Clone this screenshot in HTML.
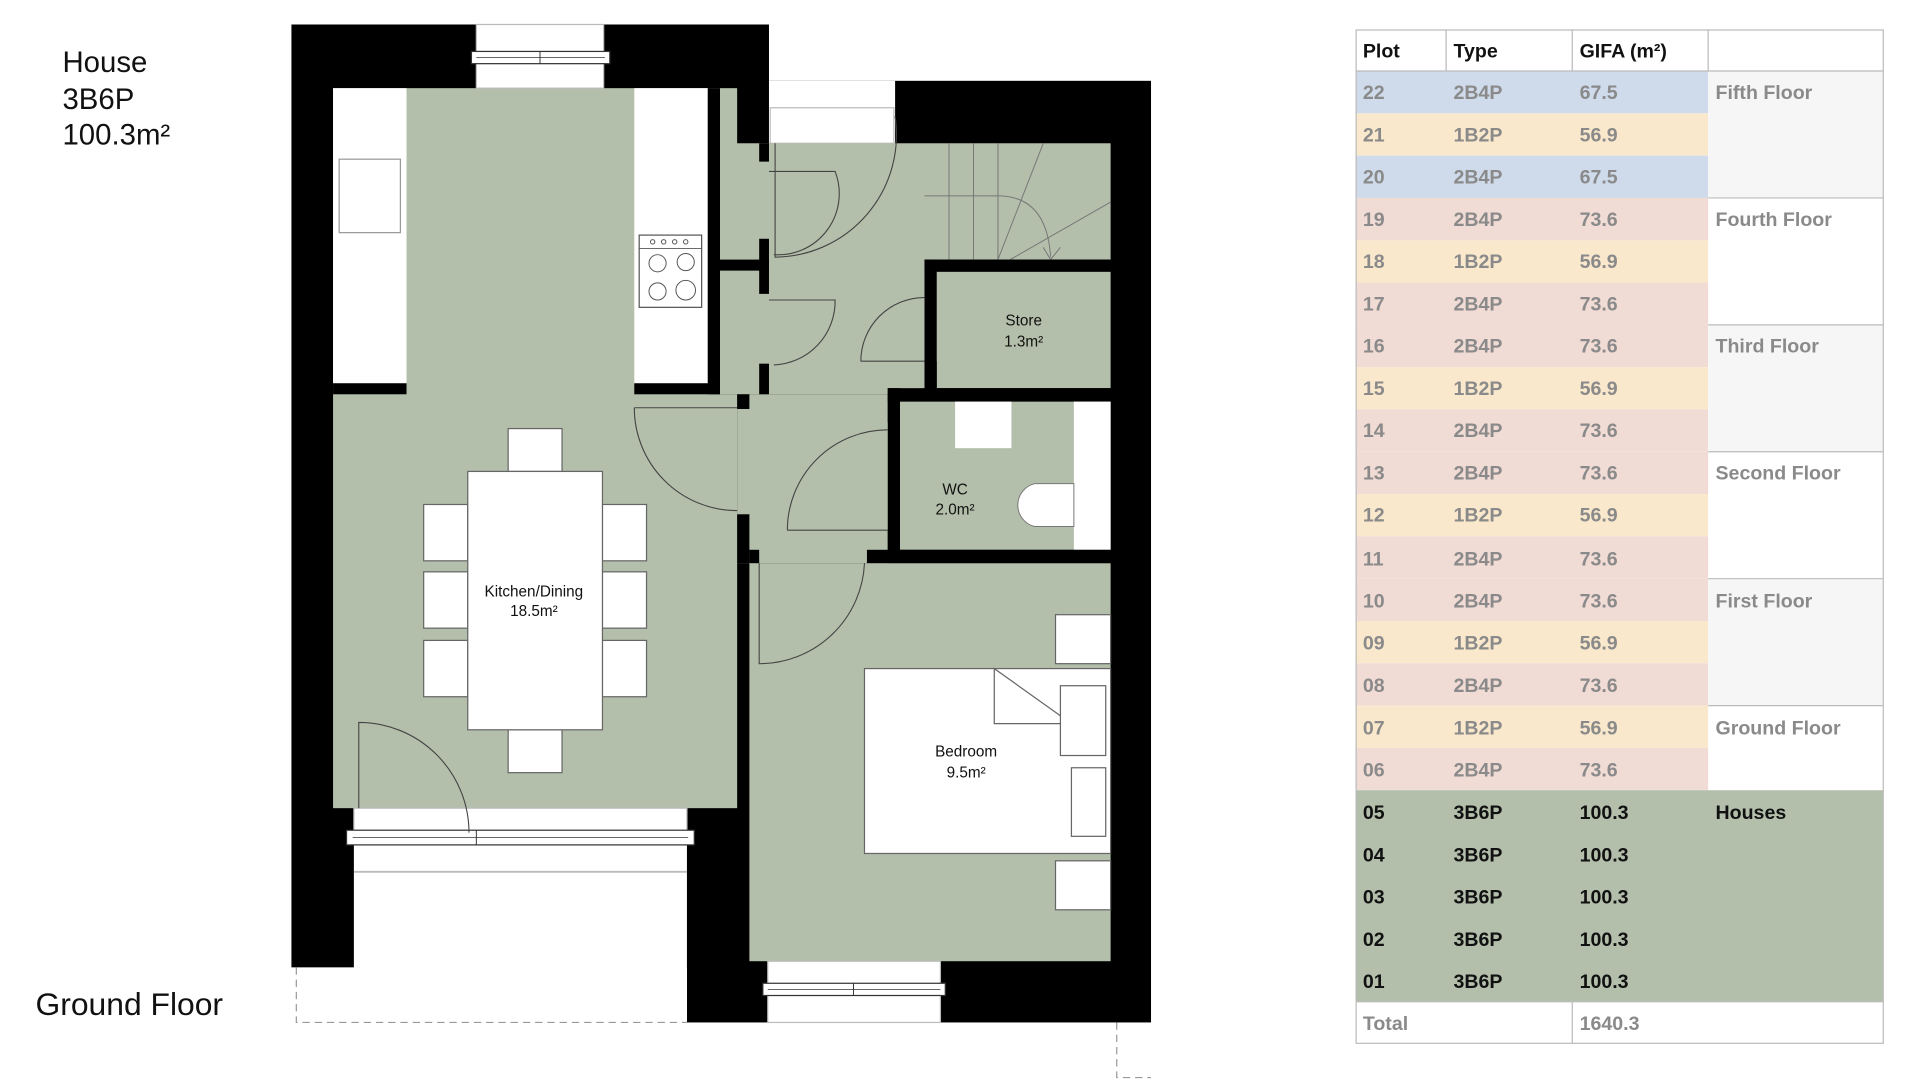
<!DOCTYPE html>
<html><head><meta charset="utf-8"><style>
html,body{margin:0;padding:0;background:#fff;width:1920px;height:1080px;overflow:hidden}
svg{display:block}
.t{font-family:"Liberation Sans",sans-serif}
.d{font-family:"Liberation Sans",sans-serif;font-size:16px;font-weight:bold;fill:#8a8a8a}
.h{font-family:"Liberation Sans",sans-serif;font-size:16px;font-weight:bold;fill:#111}
.r{font-family:"Liberation Sans",sans-serif;font-size:12.5px;fill:#111;text-anchor:middle}
</style></head><body>
<svg width="1920" height="1080" viewBox="0 0 1568 882" preserveAspectRatio="none" xmlns="http://www.w3.org/2000/svg">
<rect width="1568" height="882" fill="#fff"/>
<!-- titles -->
<text class="t" x="51" y="59" font-size="24" fill="#111">House</text>
<text class="t" x="51" y="89" font-size="24" fill="#111">3B6P</text>
<text class="t" x="51" y="118" font-size="24" fill="#111">100.3m²</text>
<text class="t" x="29" y="829" font-size="26" fill="#111">Ground Floor</text>

<!-- black walls -->
<rect x="238" y="20" width="390" height="770" fill="#000"/>
<rect x="628" y="66" width="312" height="769" fill="#000"/>
<rect x="561" y="640" width="80" height="195" fill="#000"/>
<!-- entry recess -->
<rect x="628" y="66" width="103" height="51" fill="#fff"/>
<rect x="629" y="88" width="101" height="29" fill="#fff" stroke="#bbb" stroke-width="1"/>
<!-- patio -->
<rect x="289" y="660" width="272" height="176" fill="#fff"/>
<line x1="289" y1="712" x2="561" y2="712" stroke="#bbb" stroke-width="1.5"/>
<path d="M242 790 V835 H561" fill="none" stroke="#999" stroke-width="1" stroke-dasharray="6 4"/>
<path d="M912 835 V880 H940" fill="none" stroke="#999" stroke-width="1" stroke-dasharray="6 4"/>

<!-- kitchen -->
<rect x="272" y="72" width="330" height="588" fill="#b3bfab"/>
<rect x="272" y="72" width="60" height="241" fill="#fff"/>
<rect x="277" y="130" width="50" height="60" fill="#fff" stroke="#999" stroke-width="1"/>
<rect x="518" y="72" width="60" height="241" fill="#fff"/>
<rect x="522" y="192" width="51" height="59" fill="#fff" stroke="#555" stroke-width="1"/>
<line x1="522" y1="203" x2="573" y2="203" stroke="#555" stroke-width="0.8"/>
<g fill="none" stroke="#555" stroke-width="0.8">
<circle cx="533" cy="197.5" r="1.8"/><circle cx="542" cy="197.5" r="1.8"/><circle cx="551" cy="197.5" r="1.8"/><circle cx="560" cy="197.5" r="1.8"/>
<circle cx="537" cy="215" r="7"/><circle cx="560" cy="214" r="7"/><circle cx="537" cy="238" r="7"/><circle cx="560" cy="237" r="8"/>
</g>
<rect x="272" y="313" width="60" height="9" fill="#000"/>
<rect x="518" y="313" width="110" height="9" fill="#000"/>
<rect x="578" y="72" width="10" height="250" fill="#000"/>
<!-- top window -->
<rect x="389" y="20" width="104" height="52" fill="#fff" stroke="#bbb" stroke-width="1"/>
<rect x="385" y="42" width="113" height="10" fill="#fff" stroke="#333" stroke-width="1"/>
<line x1="389" y1="47" x2="494" y2="47" stroke="#333" stroke-width="0.6"/>
<line x1="441" y1="42" x2="441" y2="52" stroke="#333" stroke-width="0.8"/>
<!-- bottom kitchen window -->
<rect x="289" y="660" width="272" height="25" fill="#fff" stroke="#bbb" stroke-width="1"/>
<rect x="283" y="678" width="284" height="12" fill="#fff" stroke="#333" stroke-width="1"/>
<line x1="288" y1="684" x2="562" y2="684" stroke="#333" stroke-width="0.6"/>
<line x1="389" y1="678" x2="389" y2="690" stroke="#333" stroke-width="0.8"/>
<!-- table & chairs -->
<g fill="#fff" stroke="#666" stroke-width="1">
<rect x="415" y="350" width="44" height="35"/><rect x="415" y="596" width="44" height="35"/>
<rect x="346" y="412" width="36" height="46"/><rect x="346" y="467" width="36" height="46"/><rect x="346" y="523" width="36" height="46"/>
<rect x="492" y="412" width="36" height="46"/><rect x="492" y="467" width="36" height="46"/><rect x="492" y="523" width="36" height="46"/>
<rect x="382" y="385" width="110" height="211"/>
</g>
<text class="r" x="436" y="487">Kitchen/Dining</text>
<text class="r" x="436" y="503">18.5m²</text>

<!-- hall & cupboards -->
<rect x="588" y="117" width="167" height="205" fill="#b3bfab"/>
<rect x="602" y="322" width="123" height="138" fill="#b3bfab"/>
<rect x="725" y="222" width="30" height="95" fill="#b3bfab"/>
<rect x="755" y="117" width="152" height="95" fill="#b3bfab"/>
<rect x="588" y="212" width="40" height="9" fill="#000"/>
<rect x="620" y="117" width="8" height="15" fill="#000"/>
<rect x="620" y="195" width="8" height="45" fill="#000"/>
<rect x="620" y="297" width="8" height="25" fill="#000"/>
<rect x="602" y="322" width="10" height="12" fill="#000"/>
<rect x="602" y="420" width="10" height="40" fill="#000"/>
<!-- stairs -->
<g stroke="#777" stroke-width="0.8" fill="none">
<line x1="775" y1="117" x2="775" y2="212"/><line x1="795" y1="117" x2="795" y2="212"/><line x1="815" y1="117" x2="815" y2="212"/>
<line x1="755" y1="160" x2="815" y2="160"/>
<line x1="852" y1="117" x2="815" y2="212"/><line x1="907" y1="165" x2="825" y2="212"/>
<path d="M815 160 Q855 160 858 210"/><path d="M852 202 L858 212 L866 202"/>
</g>
<rect x="755" y="212" width="152" height="10" fill="#000"/>
<rect x="755" y="212" width="10" height="28" fill="#000"/>
<!-- store -->
<rect x="765" y="222" width="142" height="95" fill="#b3bfab"/>
<rect x="755" y="295" width="10" height="22" fill="#000"/>
<rect x="725" y="317" width="182" height="11" fill="#000"/>
<text class="r" x="836" y="266">Store</text>
<text class="r" x="836" y="283">1.3m²</text>
<!-- WC -->
<rect x="735" y="328" width="172" height="121" fill="#b3bfab"/>
<rect x="877" y="328" width="30" height="121" fill="#fff"/>
<rect x="780" y="328" width="46" height="38" fill="#fff"/>
<path d="M877 395 H845 A18 18 0 0 0 845 430 H877 Z" fill="#fff" stroke="#777" stroke-width="0.8"/>
<rect x="725" y="317" width="10" height="28" fill="#000"/>
<rect x="725" y="433" width="10" height="27" fill="#000"/>
<rect x="708" y="449" width="199" height="11" fill="#000"/>
<rect x="612" y="449" width="8" height="11" fill="#000"/>
<text class="r" x="780" y="404">WC</text>
<text class="r" x="780" y="420">2.0m²</text>
<!-- bedroom -->
<rect x="612" y="460" width="295" height="325" fill="#b3bfab"/>
<g fill="#fff" stroke="#666" stroke-width="1">
<rect x="862" y="502" width="45" height="40"/><rect x="862" y="703" width="45" height="40"/>
<rect x="706" y="546" width="201" height="151"/>
<path d="M812 546 V591 H875 Z"/>
<rect x="866" y="560" width="37" height="57"/><rect x="875" y="627" width="28" height="56"/>
</g>
<text class="r" x="789" y="618">Bedroom</text>
<text class="r" x="789" y="635">9.5m²</text>
<!-- bedroom window -->
<rect x="627" y="785" width="141" height="50" fill="#fff" stroke="#bbb" stroke-width="1"/>
<rect x="623" y="803" width="149" height="10" fill="#fff" stroke="#333" stroke-width="1"/>
<line x1="627" y1="808" x2="768" y2="808" stroke="#333" stroke-width="0.6"/>
<line x1="697" y1="803" x2="697" y2="813" stroke="#333" stroke-width="0.8"/>
<!-- doors -->
<g fill="none" stroke="#444" stroke-width="0.9">
<path d="M293 660 V590 A90 90 0 0 1 383 680"/>
<path d="M518 333 H602 M518 333 A84 84 0 0 0 602 417"/>
<path d="M643 433 H725 M643 433 A82 82 0 0 1 725 351"/>
<path d="M620 460 V542 A86 86 0 0 0 706 460"/>
<path d="M703 295 H755 M703 295 A52 52 0 0 1 755 243"/>
<path d="M628 140 H682 A50 50 0 0 1 632 208"/>
<path d="M628 245 H682 A52 52 0 0 1 632 298"/>
<path d="M731 95 A100 100 0 0 1 633 210 V117"/>
</g>

<!-- TABLE -->
<g>
<rect x="1107" y="24" width="431" height="34" fill="#fff"/>
<g>
<rect x="1107" y="58" width="288" height="34.55" fill="#cfdbeb"/>
<rect x="1107" y="92.55" width="288" height="34.55" fill="#f9e8cb"/>
<rect x="1107" y="127.1" width="288" height="34.55" fill="#cfdbeb"/>
<rect x="1107" y="161.65" width="288" height="34.55" fill="#f1dbd5"/>
<rect x="1107" y="196.2" width="288" height="34.55" fill="#f9e8cb"/>
<rect x="1107" y="230.75" width="288" height="34.55" fill="#f1dbd5"/>
<rect x="1107" y="265.3" width="288" height="34.55" fill="#f1dbd5"/>
<rect x="1107" y="299.85" width="288" height="34.55" fill="#f9e8cb"/>
<rect x="1107" y="334.4" width="288" height="34.55" fill="#f1dbd5"/>
<rect x="1107" y="368.95" width="288" height="34.55" fill="#f1dbd5"/>
<rect x="1107" y="403.5" width="288" height="34.55" fill="#f9e8cb"/>
<rect x="1107" y="438.05" width="288" height="34.55" fill="#f1dbd5"/>
<rect x="1107" y="472.6" width="288" height="34.55" fill="#f1dbd5"/>
<rect x="1107" y="507.15" width="288" height="34.55" fill="#f9e8cb"/>
<rect x="1107" y="541.7" width="288" height="34.55" fill="#f1dbd5"/>
<rect x="1107" y="576.25" width="288" height="34.55" fill="#f9e8cb"/>
<rect x="1107" y="610.8" width="288" height="34.55" fill="#f1dbd5"/>
<rect x="1107" y="645.35" width="431" height="172.75" fill="#b3bfab"/>
</g>
<rect x="1395" y="58" width="143" height="103.65" fill="#f6f6f6"/>
<rect x="1395" y="265.3" width="143" height="103.65" fill="#f6f6f6"/>
<rect x="1395" y="472.6" width="143" height="103.65" fill="#f6f6f6"/>
<g stroke="#bbb" stroke-width="1" fill="none">
<rect x="1107.5" y="24.5" width="430.5" height="827.5"/>
<line x1="1107" y1="58" x2="1538" y2="58"/>
<line x1="1181" y1="24" x2="1181" y2="58"/><line x1="1284" y1="24" x2="1284" y2="58"/><line x1="1395" y1="24" x2="1395" y2="58"/>
<line x1="1395" y1="161.65" x2="1538" y2="161.65"/>
<line x1="1395" y1="265.3" x2="1538" y2="265.3"/>
<line x1="1395" y1="368.95" x2="1538" y2="368.95"/>
<line x1="1395" y1="472.6" x2="1538" y2="472.6"/>
<line x1="1395" y1="576.25" x2="1538" y2="576.25"/>
<line x1="1107" y1="818.1" x2="1538" y2="818.1"/>
<line x1="1284" y1="818.1" x2="1284" y2="852"/>
</g>
<text class="h" x="1113" y="47">Plot</text><text class="h" x="1187" y="47">Type</text><text class="h" x="1290" y="47">GIFA (m²)</text>
<g class="d">
<text x="1113" y="81">22</text><text x="1187" y="81">2B4P</text><text x="1290" y="81">67.5</text>
<text x="1113" y="115.5">21</text><text x="1187" y="115.5">1B2P</text><text x="1290" y="115.5">56.9</text>
<text x="1113" y="150">20</text><text x="1187" y="150">2B4P</text><text x="1290" y="150">67.5</text>
<text x="1113" y="184.5">19</text><text x="1187" y="184.5">2B4P</text><text x="1290" y="184.5">73.6</text>
<text x="1113" y="219">18</text><text x="1187" y="219">1B2P</text><text x="1290" y="219">56.9</text>
<text x="1113" y="253.5">17</text><text x="1187" y="253.5">2B4P</text><text x="1290" y="253.5">73.6</text>
<text x="1113" y="288">16</text><text x="1187" y="288">2B4P</text><text x="1290" y="288">73.6</text>
<text x="1113" y="322.5">15</text><text x="1187" y="322.5">1B2P</text><text x="1290" y="322.5">56.9</text>
<text x="1113" y="357">14</text><text x="1187" y="357">2B4P</text><text x="1290" y="357">73.6</text>
<text x="1113" y="391.5">13</text><text x="1187" y="391.5">2B4P</text><text x="1290" y="391.5">73.6</text>
<text x="1113" y="426">12</text><text x="1187" y="426">1B2P</text><text x="1290" y="426">56.9</text>
<text x="1113" y="462">11</text><text x="1187" y="462">2B4P</text><text x="1290" y="462">73.6</text>
<text x="1113" y="496">10</text><text x="1187" y="496">2B4P</text><text x="1290" y="496">73.6</text>
<text x="1113" y="530.5">09</text><text x="1187" y="530.5">1B2P</text><text x="1290" y="530.5">56.9</text>
<text x="1113" y="565">08</text><text x="1187" y="565">2B4P</text><text x="1290" y="565">73.6</text>
<text x="1113" y="600">07</text><text x="1187" y="600">1B2P</text><text x="1290" y="600">56.9</text>
<text x="1113" y="634">06</text><text x="1187" y="634">2B4P</text><text x="1290" y="634">73.6</text>
<text x="1401" y="81">Fifth Floor</text>
<text x="1401" y="184.5">Fourth Floor</text>
<text x="1401" y="288">Third Floor</text>
<text x="1401" y="391.5">Second Floor</text>
<text x="1401" y="496">First Floor</text>
<text x="1401" y="600">Ground Floor</text>
<text x="1113" y="841">Total</text><text x="1290" y="841">1640.3</text>
</g>
<g class="h">
<text x="1113" y="669">05</text><text x="1187" y="669">3B6P</text><text x="1290" y="669">100.3</text><text x="1401" y="669">Houses</text>
<text x="1113" y="703.5">04</text><text x="1187" y="703.5">3B6P</text><text x="1290" y="703.5">100.3</text>
<text x="1113" y="738">03</text><text x="1187" y="738">3B6P</text><text x="1290" y="738">100.3</text>
<text x="1113" y="772.5">02</text><text x="1187" y="772.5">3B6P</text><text x="1290" y="772.5">100.3</text>
<text x="1113" y="807">01</text><text x="1187" y="807">3B6P</text><text x="1290" y="807">100.3</text>
</g>
</g>
</svg>
</body></html>
